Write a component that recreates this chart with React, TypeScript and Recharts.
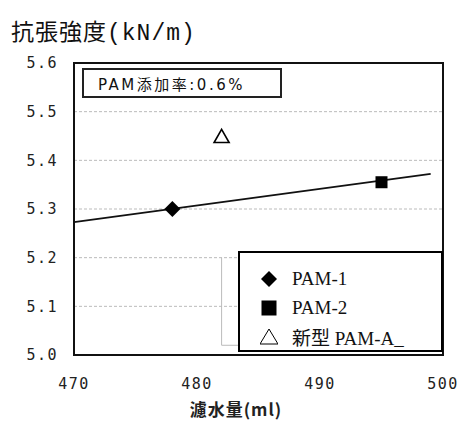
import React from "react";
import {
  ScatterChart,
  Scatter,
  XAxis,
  YAxis,
  CartesianGrid,
  ReferenceArea,
  Legend,
} from "recharts";

// 濾水量 (ml) vs 抗張強度 (kN/m)
const pam1 = [{ x: 478, y: 5.3 }];
const pam2 = [{ x: 495, y: 5.355 }];
const pamA = [{ x: 482, y: 5.45 }];
const trend = [
  { x: 470, y: 5.273 },
  { x: 499, y: 5.372 },
];
// faint leftover guide line in the scan
const guide = [
  { x: 482, y: 5.2 },
  { x: 482, y: 5.02 },
  { x: 484, y: 5.02 },
];

const xTicks = [470, 480, 490, 500];
const yTicks = [5.0, 5.1, 5.2, 5.3, 5.4, 5.5, 5.6];

const seriesNames = ["PAM-1", "PAM-2", "新型 PAM-A_"];
const note = "PAM添加率:0.6%";

const tickFont = {
  fontFamily: "'DejaVu Sans Mono', monospace",
  fontSize: 15,
  fill: "#222",
  letterSpacing: 1.5,
};

const Diamond = ({ cx, cy, r = 8 }: any) => (
  <polygon
    points={`${cx},${cy - r} ${cx + r},${cy} ${cx},${cy + r} ${cx - r},${cy}`}
    fill="#000"
  />
);

const Square = ({ cx, cy, s = 12 }: any) => (
  <rect x={cx - s / 2} y={cy - s / 2} width={s} height={s} fill="#000" />
);

const Triangle = ({ cx, cy, w = 15 }: any) => {
  const h = w * 0.87;
  return (
    <polygon
      points={`${cx},${cy - h / 2} ${cx + w / 2},${cy + h / 2} ${cx - w / 2},${cy + h / 2}`}
      fill="#fff"
      stroke="#000"
      strokeWidth={1.6}
    />
  );
};

const Nothing = () => <g />;

const legendIcon = (name: string) => {
  if (name === seriesNames[0]) return <Diamond cx={9} cy={9} r={8} />;
  if (name === seriesNames[1]) return <Square cx={9} cy={9} s={15} />;
  return (
    <polygon points="9,1 18,16 0,16" fill="#fff" stroke="#000" strokeWidth={1} />
  );
};

const renderLegend = (props: any) => {
  const items = (props.payload || []).filter((p: any) =>
    seriesNames.includes(p.value)
  );
  return (
    <div
      style={{
        width: 205,
        height: 101,
        boxSizing: "border-box",
        border: "2px solid #000",
        background: "#fff",
        padding: "11px 0 0 20px",
        fontFamily: "'Liberation Serif', 'Noto Sans CJK JP', serif",
        fontSize: 19,
        color: "#111",
      }}
    >
      {items.map((p: any) => (
        <div
          key={p.value}
          style={{ display: "flex", alignItems: "center", height: 29 }}
        >
          <svg width={18} height={18} style={{ marginRight: 14 }}>
            {legendIcon(p.value)}
          </svg>
          <span>{p.value}</span>
        </div>
      ))}
    </div>
  );
};

export default function App() {
  return (
    <div
      style={{
        position: "absolute",
        left: 0,
        top: 0,
        width: 460,
        height: 425,
        background: "#fff",
      }}
    >
      <div
        style={{
          position: "absolute",
          left: 11,
          top: 13,
          fontFamily: "'Liberation Serif', 'Noto Sans CJK JP', serif",
          fontSize: 23,
          letterSpacing: 1,
          color: "#111",
          whiteSpace: "nowrap",
        }}
      >
        抗張強度
        <span style={{ fontFamily: "'Liberation Mono', monospace" }}>
          (kN/m)
        </span>
      </div>

      <ScatterChart
        width={460}
        height={425}
        margin={{ top: 63, right: 17, bottom: 20, left: 14 }}
      >
        <CartesianGrid
          vertical={false}
          stroke="#bbb"
          strokeDasharray="3 2"
        />
        <XAxis
          type="number"
          dataKey="x"
          domain={[470, 500]}
          ticks={xTicks}
          interval={0}
          tickLine={false}
          tickSize={0}
          tickMargin={23}
          axisLine={false}
          height={50}
          tick={tickFont}
        />
        <YAxis
          type="number"
          dataKey="y"
          domain={[5.0, 5.6]}
          ticks={yTicks}
          interval={0}
          tickFormatter={(v: number) => v.toFixed(1)}
          tickLine={false}
          tickSize={0}
          tickMargin={16}
          axisLine={false}
          width={60}
          tick={tickFont}
        />
        <Scatter
          data={guide}
          line={{ stroke: "#bbb", strokeWidth: 1 }}
          shape={Nothing}
          legendType="none"
          isAnimationActive={false}
        />
        <Scatter
          data={trend}
          line={{ stroke: "#111", strokeWidth: 1.8 }}
          shape={Nothing}
          legendType="none"
          isAnimationActive={false}
        />
        <Scatter
          name={seriesNames[0]}
          data={pam1}
          fill="#000"
          shape={(p: any) => <Diamond cx={p.cx} cy={p.cy} r={8} />}
          isAnimationActive={false}
        />
        <Scatter
          name={seriesNames[1]}
          data={pam2}
          fill="#000"
          shape={(p: any) => <Square cx={p.cx} cy={p.cy} s={12} />}
          isAnimationActive={false}
        />
        <Scatter
          name={seriesNames[2]}
          data={pamA}
          fill="#fff"
          shape={(p: any) => <Triangle cx={p.cx} cy={p.cy} w={15} />}
          isAnimationActive={false}
        />
        <ReferenceArea
          x1={470}
          x2={500}
          y1={5.0}
          y2={5.6}
          fill="none"
          fillOpacity={0}
          stroke="#111"
          strokeWidth={2}
        />
        <Legend
          layout="horizontal"
          verticalAlign="middle"
          align="center"
          content={renderLegend}
          wrapperStyle={{ left: 238, top: 251, width: 205, height: 101 }}
        />
      </ScatterChart>

      <div
        style={{
          position: "absolute",
          left: 82,
          top: 68,
          width: 200,
          height: 30,
          boxSizing: "border-box",
          border: "2px solid #222",
          display: "flex",
          alignItems: "center",
          paddingLeft: 14,
          fontFamily: "'DejaVu Sans', 'Noto Sans CJK JP', sans-serif",
          fontSize: 15,
          letterSpacing: 2.5,
          color: "#111",
          background: "#fff",
        }}
      >
        {note}
      </div>

      <div
        style={{
          position: "absolute",
          left: 183,
          top: 396,
          width: 106,
          textAlign: "center",
          fontFamily: "'Noto Sans CJK JP', sans-serif",
          fontWeight: 700,
          fontSize: 17,
          color: "#222",
          letterSpacing: 1,
        }}
      >
        濾水量(ml)
      </div>
    </div>
  );
}
